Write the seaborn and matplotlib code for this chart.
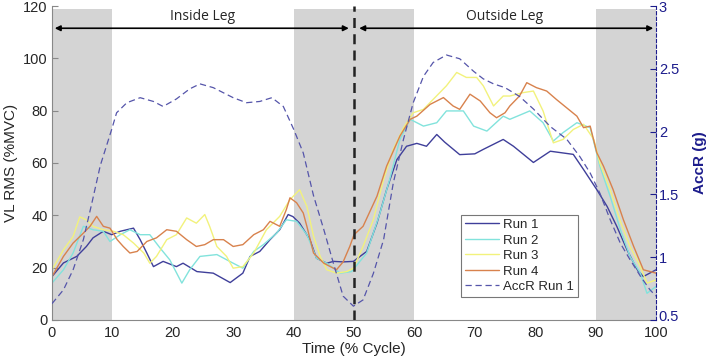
import numpy as np
import pandas as pd
import matplotlib
matplotlib.use("Agg")
import matplotlib.pyplot as plt
import matplotlib.transforms as mtransforms
import seaborn as sns

# valores (tempo em % do ciclo)
t_run1 = [0, 1.9, 4.1, 5.7, 6.8, 8.5, 9.9, 11.3, 13.5, 14.6, 15.7, 16.8, 18.4, 20.6, 21.7, 24, 26.7,
          29.5, 31.6, 32.8, 34.4, 36.1, 37.7, 39.1, 39.9, 41, 42.7, 43.8, 45.5, 46.6, 48.2, 49.9,
          52.1, 53.8, 55.4, 57.1, 58.7, 60.4, 62, 63.7, 65, 67.5, 70, 71.4, 74.7, 76.4, 79.7, 82.5,
          86.3, 88, 90.2, 91.9, 93.5, 95.2, 96.9, 97.9, 100]
run1 = [16.6, 21.8, 24.3, 28.1, 31.4, 33.9, 32.6, 33.9, 35.1, 30.7, 25.6, 20.4, 22.4, 20.4, 21.7, 18.5, 17.9,
        14.3, 17.9, 24.3, 26.2, 30.7, 34.5, 40.3, 39.5, 37, 30.7, 23.6, 21.7, 22.4, 22.2, 22.4,
        26.2, 37, 49.8, 61.3, 66.4, 67.5, 66.4, 70.9, 68, 63.2, 63.5, 65.2, 69, 66.4, 60.2, 64.5,
        63.3, 57.5, 49.8, 43.4, 35.8, 26.8, 19.2, 16.6, 19.2]

t_run2 = [0, 1.9, 3.5, 5.2, 6.8, 8.5, 9.6, 11.3, 12.9, 14.6, 16.2, 17.9, 19.5, 21.5, 22.8, 24.5, 27.3,
          30, 31.6, 33.4, 35, 37.2, 38.8, 40.5, 42.2, 43.8, 45.5, 47.7, 49.6, 52.1, 54.3, 55.9,
          57.6, 59.3, 61.5, 63.7, 65.3, 68.1, 69.8, 72, 74.7, 75.8, 79.1, 81.3, 83, 84.6, 86.9,
          89.1, 90.7, 92.4, 94.1, 95.7, 97.4, 98.5, 100]
run2 = [14.1, 19.2, 25.6, 35.8, 34.5, 33.9, 30, 32.6, 34.5, 32.6, 32.6, 27.5, 23, 14.1, 19.2, 24.3, 25,
        21.7, 19.8, 26.2, 28.8, 33.2, 38.3, 37.7, 32.6, 23.6, 21.7, 17.9, 18.5, 25.6, 40.9, 53.7,
        69, 76.7, 74.1, 75.4, 79.9, 79.9, 74.1, 72.2, 77.9, 76.7, 79.9, 75.4, 68.4, 71.6, 75.4,
        73.5, 58.8, 47.3, 34.5, 24.3, 17.9, 10.2, 12.8]

t_run3 = [0, 1.9, 3.5, 4.6, 5.7, 6.8, 8.5, 10.2, 11.8, 13.5, 15.2, 16.2, 17.3, 19, 20.6, 22.3, 23.9,
          25.3, 26.1, 27.3, 28.9, 30, 31.6, 33.4, 35.5, 37.7, 39.4, 41, 42.2, 43.3, 44.4, 45.5,
          47.1, 48.8, 49.9, 51.5, 53.2, 54.9, 56.5, 58.2, 59.8, 61.5, 63.1, 65.3, 67, 68.6, 70.3,
          71.4, 73.1, 74.7, 75.8, 78, 79.7, 81.3, 83, 84.6, 86.3, 88, 89.7, 90.7, 92.4, 94.1,
          95.7, 97.4, 98.5, 100]
run3 = [19.2, 26.8, 31.9, 39.4, 38.3, 35.8, 34.5, 33.9, 32.6, 29.4, 25.6, 21.7, 24.3, 30.7, 32.6, 39, 37,
        40.3, 35.8, 28.1, 24.3, 19.8, 20.4, 25.6, 34.5, 39.6, 46, 49.8, 43.4, 32, 24.3, 19.2,
        17.9, 18.5, 19.8, 28.1, 38.3, 53.7, 65.2, 73.5, 79.2, 80.5, 84.3, 89.5, 94.6, 92.7, 92.7,
        89.5, 81.8, 85.6, 85.6, 86.9, 87.5, 79.9, 67.7, 69, 72.8, 74.8, 69, 60, 49.8, 37.7,
        28.1, 20.4, 14.1, 15.3]

t_run4 = [0, 1.9, 3.5, 5.2, 6.3, 7.4, 8.5, 9.6, 10.8, 11.8, 12.9, 14.1, 15.7, 17.3, 19, 20.6, 22.3,
          23.9, 25.3, 26.7, 28.4, 30, 31.6, 33.4, 35, 36.1, 37.7, 38.8, 39.4, 40.5, 41.6, 42.2,
          43.3, 45, 47.1, 48.2, 49.3, 50, 51.5, 53.8, 55.4, 57.6, 59.3, 60.4, 62.6, 64.8, 66.4,
          67.5, 69.2, 70.9, 72.5, 73.6, 75, 75.8, 77.4, 78.6, 80.2, 81.9, 83.5, 85.2, 86.9, 88,
          89.1, 90.2, 91.3, 92.9, 94.6, 96.3, 97.9, 100]
run4 = [16.6, 24.3, 29.4, 33.2, 35.8, 39.6, 35.8, 35.1, 30.7, 28.1, 25.6, 26.2, 30, 31.4, 34.5, 33.9, 30.7,
        28.1, 28.8, 30.7, 30.7, 28.1, 28.8, 32.6, 34.5, 37.7, 35.8, 42.2, 46.7, 44.8, 40.9, 35.8,
        25.6, 21.7, 19.2, 22.2, 28.1, 32.6, 35.8, 47.3, 58.8, 70.3, 76.7, 77.9, 82.4, 85, 81.8,
        80.5, 86.3, 83.7, 79.2, 77.3, 79.2, 81.8, 85.6, 90.7, 88.8, 87.5, 84.3, 81.1, 77.9, 73.5,
        74.1, 63.9, 58.8, 49.8, 38.3, 28.1, 19.2, 17.9]

# aceleracao resultante (g), eixo da direita
t_acc = [0, 1.9, 3.5, 5.2, 6.6, 8, 9.9, 10.7, 12.4, 14.6, 16.8, 18.4, 20.6, 22.8, 24.5, 26.7, 30,
         32.2, 34.4, 36.4, 38.3, 40, 41.6, 43.3, 45, 46.6, 48.2, 49.9, 51.5, 53.2, 54.9, 56.5,
         58.2, 59.8, 61.5, 63.1, 65.3, 67.5, 69.8, 71.4, 73.1, 75, 77.4, 79.7, 82.5, 85.2, 87.4,
         89.1, 90.7, 92.4, 94.1, 95.7, 97.4, 99, 100]
acc = [0.63, 0.74, 0.90, 1.14, 1.43, 1.73, 2.02, 2.15, 2.23, 2.27, 2.24, 2.20, 2.26, 2.34, 2.38, 2.35, 2.27,
       2.23, 2.24, 2.27, 2.20, 2.02, 1.83, 1.49, 1.22, 0.95, 0.69, 0.61, 0.66, 0.87, 1.14, 1.59,
       1.94, 2.23, 2.44, 2.55, 2.61, 2.58, 2.48, 2.42, 2.38, 2.35, 2.28, 2.18, 2.04, 1.94, 1.80,
       1.67, 1.51, 1.30, 1.11, 0.98, 0.85, 0.74, 0.69]

cores = ["#3f3f9a", "#82e3dc", "#f2f27c", "#d8824d"]
nomes = ["Run 1", "Run 2", "Run 3", "Run 4"]
navy = "#1c1c8c"

sns.set_style("white")
plt.rcParams["font.family"] = ["Liberation Sans", "DejaVu Sans"]

fig = plt.figure(figsize=(7.08, 3.64), dpi=100)
ax = fig.add_axes([0.0734, 0.1209, 0.8532, 0.8626])
ax2 = ax.twinx()

# faixas cinzas
for a, b in [(0, 10), (40, 60), (90, 100)]:
    ax.axvspan(a, b, ymin=0, ymax=0.992, color="#d4d4d4", lw=0, zorder=0)

series = [(t_run1, run1), (t_run2, run2), (t_run3, run3), (t_run4, run4)]
for (tt, vv), c, n in zip(series, cores, nomes):
    sns.lineplot(x=tt, y=vv, ax=ax, color=c, lw=1.0, label=n, legend=False)

sns.lineplot(x=t_acc, y=acc, ax=ax2, color="#5555aa", lw=0.9, legend=False)
ax2.lines[0].set_dashes((5, 3))

ax.axvline(50, color="#222222", lw=1.8, dashes=(4, 2.5), zorder=5)

# setas inside / outside
ax.annotate("", xy=(0, 111.5), xytext=(49.6, 111.5),
            arrowprops=dict(arrowstyle="<|-|>", color="black", lw=1.2, mutation_scale=8))
ax.annotate("", xy=(50.4, 111.5), xytext=(100, 111.5),
            arrowprops=dict(arrowstyle="<|-|>", color="black", lw=1.2, mutation_scale=8))
ax.text(25, 115.8, "Inside Leg", ha="center", va="center", fontsize=10, family=["Open Sans", "DejaVu Sans"])
ax.text(75, 115.8, "Outside Leg", ha="center", va="center", fontsize=10, family=["Open Sans", "DejaVu Sans"])

ax.set_xlim(0, 100)
ax.set_ylim(0, 120)
ax2.set_ylim(0.5, 3)
ax.set_xticks(range(0, 101, 10))
ax.set_yticks(range(0, 121, 20))
ax2.set_yticks([0.5, 1, 1.5, 2, 2.5, 3])
ax2.set_yticklabels(["0.5", "1", "1.5", "2", "2.5", "3"])

ax.set_xlabel("Time (% Cycle)", fontsize=11, color="#262626", labelpad=2)
ax.set_ylabel("VL RMS (%MVC)", fontsize=11, color="#262626", labelpad=4)
ax2.set_ylabel("AccR (g)", fontsize=11, color=navy, fontweight="bold", labelpad=10)

ax.tick_params(axis="both", direction="in", length=4, width=0.8, color="#888888",
               labelsize=10.5, labelcolor="#262626", pad=3)
ax.tick_params(axis="x", pad=4)
ax2.tick_params(axis="y", direction="in", length=4, color=navy, labelcolor=navy,
                labelsize=10.5, right=True, pad=2)

# sobe um pouco o "0.5" para nao encostar no "100"
lab05 = ax2.get_yticklabels()[0]
lab05.set_transform(lab05.get_transform() + mtransforms.ScaledTranslation(0, 3 / 72, fig.dpi_scale_trans))

ax.spines["top"].set_visible(False)
ax2.spines["top"].set_visible(False)
ax.spines["right"].set_visible(False)
ax2.spines["left"].set_visible(False)
ax2.spines["bottom"].set_visible(False)
ax.spines["left"].set_color("#888888")
ax.spines["bottom"].set_color("#888888")
ax2.spines["right"].set_color(navy)
ax2.spines["right"].set_linestyle((0, (3, 2)))
ax2.spines["right"].set_linewidth(0.8)

# legenda
h = ax.get_lines()[:4] + [ax2.lines[0]]
leg = ax.legend(h, nomes + ["AccR Run 1"], loc="lower left", bbox_to_anchor=(0.677, 0.073),
                fontsize=9.5, frameon=True, fancybox=False, edgecolor="#555555",
                handlelength=2.6, handletextpad=0.3, borderpad=0.3, labelspacing=0.25,
                borderaxespad=0)
leg.get_frame().set_linewidth(0.8)
leg.set_zorder(10)

fig.savefig("out.png", dpi=100)
